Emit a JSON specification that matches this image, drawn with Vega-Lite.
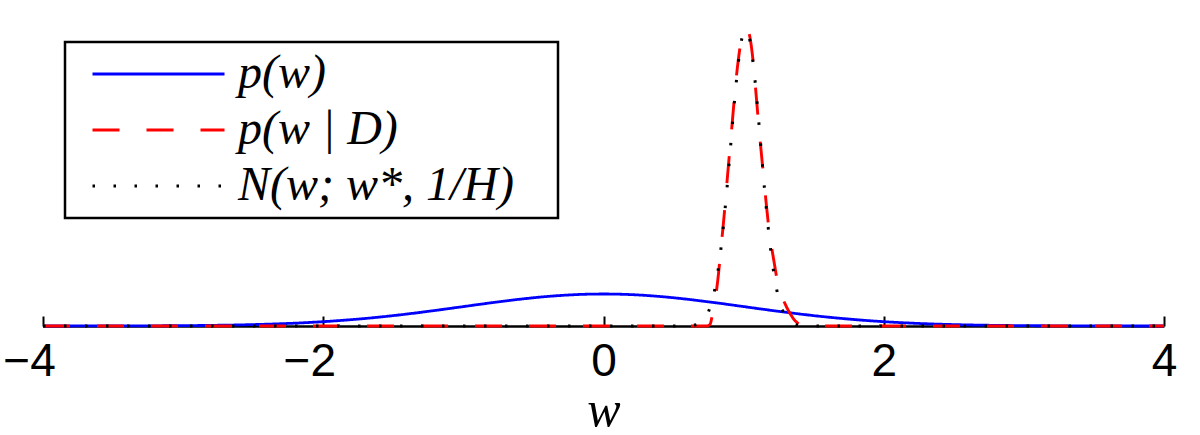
{
  "$schema": "https://vega.github.io/schema/vega-lite/v6.json",
  "autosize": {"type": "none"},
  "width": 1121,
  "height": 300,
  "padding": {"left": 43, "top": 26, "right": 36, "bottom": 109},
  "background": "white",
  "config": {
    "view": {"stroke": null},
    "legend": {
      "orient": "none",
      "legendX": 22,
      "legendY": 16,
      "strokeColor": "black",
      "strokeWidth": 2.5,
      "fillColor": "white",
      "padding": 8,
      "symbolType": "M-3,0H3",
      "symbolSize": 1936,
      "symbolStrokeWidth": 3,
      "symbolOffset": 61.5,
      "labelFont": "Liberation Serif",
      "labelFontStyle": "italic",
      "labelFontSize": 48,
      "labelColor": "black",
      "labelOffset": 55.5,
      "labelLimit": 0,
      "rowPadding": 8,
      "titleOrient": "right",
      "titleFontSize": 1,
      "titlePadding": 36,
      "titleColor": "white"
    }
  },
  "data": {
    "values": [
      {"series": "p(w)", "w": -4.0, "density": 0.0001},
      {"series": "p(w)", "w": -3.8, "density": 0.0003},
      {"series": "p(w)", "w": -3.6, "density": 0.0006},
      {"series": "p(w)", "w": -3.4, "density": 0.0012},
      {"series": "p(w)", "w": -3.2, "density": 0.0024},
      {"series": "p(w)", "w": -3.0, "density": 0.0044},
      {"series": "p(w)", "w": -2.8, "density": 0.0079},
      {"series": "p(w)", "w": -2.6, "density": 0.0136},
      {"series": "p(w)", "w": -2.4, "density": 0.0224},
      {"series": "p(w)", "w": -2.2, "density": 0.0355},
      {"series": "p(w)", "w": -2.0, "density": 0.054},
      {"series": "p(w)", "w": -1.8, "density": 0.079},
      {"series": "p(w)", "w": -1.6, "density": 0.1109},
      {"series": "p(w)", "w": -1.4, "density": 0.1497},
      {"series": "p(w)", "w": -1.2, "density": 0.1942},
      {"series": "p(w)", "w": -1.0, "density": 0.242},
      {"series": "p(w)", "w": -0.8, "density": 0.2897},
      {"series": "p(w)", "w": -0.6, "density": 0.3332},
      {"series": "p(w)", "w": -0.4, "density": 0.3683},
      {"series": "p(w)", "w": -0.2, "density": 0.391},
      {"series": "p(w)", "w": 0.0, "density": 0.3989},
      {"series": "p(w)", "w": 0.2, "density": 0.391},
      {"series": "p(w)", "w": 0.4, "density": 0.3683},
      {"series": "p(w)", "w": 0.6, "density": 0.3332},
      {"series": "p(w)", "w": 0.8, "density": 0.2897},
      {"series": "p(w)", "w": 1.0, "density": 0.242},
      {"series": "p(w)", "w": 1.2, "density": 0.1942},
      {"series": "p(w)", "w": 1.4, "density": 0.1497},
      {"series": "p(w)", "w": 1.6, "density": 0.1109},
      {"series": "p(w)", "w": 1.8, "density": 0.079},
      {"series": "p(w)", "w": 2.0, "density": 0.054},
      {"series": "p(w)", "w": 2.2, "density": 0.0355},
      {"series": "p(w)", "w": 2.4, "density": 0.0224},
      {"series": "p(w)", "w": 2.6, "density": 0.0136},
      {"series": "p(w)", "w": 2.8, "density": 0.0079},
      {"series": "p(w)", "w": 3.0, "density": 0.0044},
      {"series": "p(w)", "w": 3.2, "density": 0.0024},
      {"series": "p(w)", "w": 3.4, "density": 0.0012},
      {"series": "p(w)", "w": 3.6, "density": 0.0006},
      {"series": "p(w)", "w": 3.8, "density": 0.0003},
      {"series": "p(w)", "w": 4.0, "density": 0.0001},

      {"series": "p(w | D)", "w": -4.0, "density": 0},
      {"series": "p(w | D)", "w": 0.74, "density": 0},
      {"series": "p(w | D)", "w": 0.76, "density": 0.02},
      {"series": "p(w | D)", "w": 0.78, "density": 0.17},
      {"series": "p(w | D)", "w": 0.8, "density": 0.36},
      {"series": "p(w | D)", "w": 0.82, "density": 0.64},
      {"series": "p(w | D)", "w": 0.84, "density": 1.0},
      {"series": "p(w | D)", "w": 0.86, "density": 1.36},
      {"series": "p(w | D)", "w": 0.88, "density": 1.77},
      {"series": "p(w | D)", "w": 0.9, "density": 2.17},
      {"series": "p(w | D)", "w": 0.92, "density": 2.56},
      {"series": "p(w | D)", "w": 0.94, "density": 2.96},
      {"series": "p(w | D)", "w": 0.96, "density": 3.29},
      {"series": "p(w | D)", "w": 0.98, "density": 3.53},
      {"series": "p(w | D)", "w": 1.0, "density": 3.66},
      {"series": "p(w | D)", "w": 1.02, "density": 3.7},
      {"series": "p(w | D)", "w": 1.04, "density": 3.64},
      {"series": "p(w | D)", "w": 1.06, "density": 3.42},
      {"series": "p(w | D)", "w": 1.08, "density": 3.07},
      {"series": "p(w | D)", "w": 1.1, "density": 2.66},
      {"series": "p(w | D)", "w": 1.12, "density": 2.27},
      {"series": "p(w | D)", "w": 1.14, "density": 1.91},
      {"series": "p(w | D)", "w": 1.16, "density": 1.55},
      {"series": "p(w | D)", "w": 1.18, "density": 1.22},
      {"series": "p(w | D)", "w": 1.2, "density": 0.98},
      {"series": "p(w | D)", "w": 1.22, "density": 0.77},
      {"series": "p(w | D)", "w": 1.24, "density": 0.57},
      {"series": "p(w | D)", "w": 1.26, "density": 0.44},
      {"series": "p(w | D)", "w": 1.28, "density": 0.34},
      {"series": "p(w | D)", "w": 1.3, "density": 0.26},
      {"series": "p(w | D)", "w": 1.32, "density": 0.19},
      {"series": "p(w | D)", "w": 1.34, "density": 0.13},
      {"series": "p(w | D)", "w": 1.36, "density": 0.08},
      {"series": "p(w | D)", "w": 1.38, "density": 0.045},
      {"series": "p(w | D)", "w": 1.4, "density": 0.02},
      {"series": "p(w | D)", "w": 1.43, "density": 0},
      {"series": "p(w | D)", "w": 4.0, "density": 0},

      {"series": "N(w; w*, 1/H)", "w": -4.0, "density": 0},
      {"series": "N(w; w*, 1/H)", "w": 0.55, "density": 0},
      {"series": "N(w; w*, 1/H)", "w": 0.6, "density": 0.0023},
      {"series": "N(w; w*, 1/H)", "w": 0.65, "density": 0.0122},
      {"series": "N(w; w*, 1/H)", "w": 0.7, "density": 0.0525},
      {"series": "N(w; w*, 1/H)", "w": 0.725, "density": 0.1004},
      {"series": "N(w; w*, 1/H)", "w": 0.75, "density": 0.1819},
      {"series": "N(w; w*, 1/H)", "w": 0.775, "density": 0.3129},
      {"series": "N(w; w*, 1/H)", "w": 0.8, "density": 0.509},
      {"series": "N(w; w*, 1/H)", "w": 0.825, "density": 0.786},
      {"series": "N(w; w*, 1/H)", "w": 0.85, "density": 1.15},
      {"series": "N(w; w*, 1/H)", "w": 0.875, "density": 1.595},
      {"series": "N(w; w*, 1/H)", "w": 0.9, "density": 2.095},
      {"series": "N(w; w*, 1/H)", "w": 0.925, "density": 2.611},
      {"series": "N(w; w*, 1/H)", "w": 0.95, "density": 3.082},
      {"series": "N(w; w*, 1/H)", "w": 0.975, "density": 3.449},
      {"series": "N(w; w*, 1/H)", "w": 1.0, "density": 3.659},
      {"series": "N(w; w*, 1/H)", "w": 1.025, "density": 3.678},
      {"series": "N(w; w*, 1/H)", "w": 1.05, "density": 3.505},
      {"series": "N(w; w*, 1/H)", "w": 1.075, "density": 3.166},
      {"series": "N(w; w*, 1/H)", "w": 1.1, "density": 2.71},
      {"series": "N(w; w*, 1/H)", "w": 1.125, "density": 2.199},
      {"series": "N(w; w*, 1/H)", "w": 1.15, "density": 1.691},
      {"series": "N(w; w*, 1/H)", "w": 1.175, "density": 1.233},
      {"series": "N(w; w*, 1/H)", "w": 1.2, "density": 0.852},
      {"series": "N(w; w*, 1/H)", "w": 1.225, "density": 0.558},
      {"series": "N(w; w*, 1/H)", "w": 1.25, "density": 0.346},
      {"series": "N(w; w*, 1/H)", "w": 1.275, "density": 0.204},
      {"series": "N(w; w*, 1/H)", "w": 1.3, "density": 0.1136},
      {"series": "N(w; w*, 1/H)", "w": 1.35, "density": 0.0301},
      {"series": "N(w; w*, 1/H)", "w": 1.4, "density": 0.0064},
      {"series": "N(w; w*, 1/H)", "w": 1.45, "density": 0.0011},
      {"series": "N(w; w*, 1/H)", "w": 1.5, "density": 0},
      {"series": "N(w; w*, 1/H)", "w": 4.0, "density": 0}
    ]
  },
  "encoding": {
    "x": {
      "field": "w", "type": "quantitative",
      "scale": {"domain": [-4, 4], "nice": false, "zero": false},
      "axis": {
        "values": [-4, -2, 0, 2, 4],
        "grid": false,
        "domainColor": "black", "domainWidth": 2.5,
        "tickColor": "black", "tickWidth": 2, "tickSize": -10,
        "labelFont": "Liberation Sans", "labelFontSize": 46, "labelColor": "black",
        "labelPadding": 23,
        "labelOffset": {"condition": {"test": "datum.value < 0", "value": -14}, "value": 0},
        "labelFlush": false,
        "labelOverlap": false,
        "title": "w",
        "titleFont": "Liberation Serif", "titleFontStyle": "italic", "titleFontWeight": "normal",
        "titleFontSize": 50, "titleColor": "black", "titlePadding": 1
      }
    },
    "y": {
      "field": "density", "type": "quantitative",
      "scale": {"domain": [0, 3.74], "nice": false},
      "axis": null
    },
    "color": {
      "field": "series", "type": "nominal",
      "scale": {"domain": ["p(w)", "p(w | D)", "N(w; w*, 1/H)"], "range": ["#0000ff", "#ff0000", "#000000"]},
      "legend": {"title": "\u00a0"}
    },
    "strokeDash": {
      "field": "series", "type": "nominal",
      "scale": {"domain": ["p(w)", "p(w | D)", "N(w; w*, 1/H)"], "range": [[1, 0], [27, 27], [2.5, 18.5]]},
      "legend": {"title": "\u00a0"}
    },
    "strokeWidth": {
      "field": "series", "type": "nominal",
      "scale": {"domain": ["p(w)", "p(w | D)", "N(w; w*, 1/H)"], "range": [2.8, 3, 2.5]},
      "legend": null
    }
  },
  "layer": [
    {"transform": [{"filter": "datum.series === 'p(w)'"}], "mark": {"type": "line", "interpolate": "monotone"}},
    {"transform": [{"filter": "datum.series === 'p(w | D)'"}], "mark": {"type": "line", "interpolate": "monotone"}},
    {"transform": [{"filter": "datum.series === 'N(w; w*, 1/H)'"}], "mark": {"type": "line", "interpolate": "monotone"}}
  ]
}
